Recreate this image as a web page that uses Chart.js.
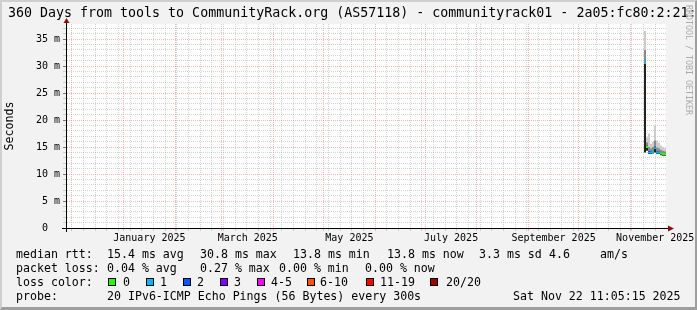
<!DOCTYPE html>
<html>
<head>
<meta charset="utf-8">
<script src="https://cdn.jsdelivr.net/npm/chart.js@4.4.0/dist/chart.umd.min.js"></script>
<style>
html, body { margin: 0; padding: 0; background: #f2f2f2; }
#page { position: relative; width: 697px; height: 310px; overflow: hidden; background: #f2f2f2;
        font-family: 'DejaVu Sans Mono', monospace; color: #000; }
#bevel { position: absolute; left: 0; top: 0; width: 697px; height: 310px; box-sizing: border-box;
         border-top: 2px solid #cfcfcf; border-left: 2px solid #cfcfcf;
         border-right: 2px solid #9e9e9e; border-bottom: 3px solid #9e9e9e; }
#chart { position: absolute; left: 0; top: 0; }
.t { position: absolute; white-space: pre; font-size: 11.6px; line-height: 14px; }
#title { position: absolute; left: 8px; top: 5px; white-space: pre; font-size: 13.3px; line-height: 16px; }
#wm { position: absolute; left: 684px; top: 5px; font-size: 8.3px; line-height: 9px; color: #aaaaaa;
      writing-mode: vertical-rl; white-space: pre; }
.box { position: absolute; top: 278px; width: 8px; height: 8px; box-sizing: border-box; border: 1px solid #000; }
</style>
</head>
<body>
<div id="page">
  <div id="bevel"></div>
  <canvas id="chart" width="697" height="310"></canvas>
  <div id="title">360 Days from tools to CommunityRack.org (AS57118) - communityrack01 - 2a05:fc80:2:21::1</div>
  <div id="wm">RRDTOOL / TOBI OETIKER</div>
  <div id="legend"></div>
</div>
<script>
// time span of the graph
var startMs = Date.UTC(2024, 10, 27, 11, 5, 15);
var spanDays = 360;

// x grid / labels
var monthStarts = ['2024-12-01', '2025-01-01', '2025-02-01', '2025-03-01', '2025-04-01', '2025-05-01',
                   '2025-06-01', '2025-07-01', '2025-08-01', '2025-09-01', '2025-10-01', '2025-11-01'];
var firstSunday = '2024-12-01';
var monthLabels = ['January 2025', 'March 2025', 'May 2025', 'July 2025', 'September 2025', 'November 2025'];
var labelAt = ['2025-01-16T12:00', '2025-03-16T12:00', '2025-05-16T12:00', '2025-07-16T12:00',
               '2025-09-16T00:00', '2025-11-16T00:00'];

// measured columns (days since start of graph)
var colDays  = [347.4, 348.6, 349.8, 351.0, 352.2, 353.4, 354.6, 355.8, 357.0, 358.2, 359.4];
// median rtt in ms and lost pings (index into loss colours)
var medianMs = [30.8, 15.0, 14.0, 14.0, 14.1, 14.8, 14.0, 14.0, 13.8, 13.7, 13.7];
var lossIdx  = [1, 0, 1, 1, 1, 1, 1, 1, 0, 0, 0];
// smoke: spread of the single pings in ms
var smokeMin = [14.0, 14.3, 13.7, 13.7, 13.8, 14.0, 13.7, 13.7, 13.5, 13.4, 13.4];
var smokeQ1  = [30.4, 15.3, 14.3, 14.2, 14.3, 15.1, 14.2, 14.2, 14.0, 13.9, 13.9];
var smokeQ3  = [33.0, 15.9, 15.0, 14.8, 15.0, 16.2, 14.9, 14.8, 14.5, 14.3, 14.2];
var smokeMax = [36.5, 16.8, 17.5, 15.6, 16.0, 19.0, 16.2, 15.8, 15.3, 15.0, 14.8];

var lossLabels = ['0', '1', '2', '3', '4-5', '6-10', '11-19', '20/20'];
var lossColors = ['#26ff00', '#00b8ff', '#0059ff', '#7e00ff', '#ff00ff', '#ff5500', '#ff0000', '#a10000'];

var yMax = 37.8;

function dayOf(s) {
    if (s.length == 10) s += 'T00:00';
    return (Date.parse(s + ':00Z') - startMs) / 86400000;
}

// legend text (rrdtool style)
var legend = document.getElementById('legend');
function put(x, y, txt) {
    var d = document.createElement('div');
    d.className = 't';
    d.style.left = x + 'px';
    d.style.top = y + 'px';
    d.textContent = txt;
    legend.appendChild(d);
}
put(16, 247, 'median rtt:');
put(107, 247, '15.4 ms avg');
put(200, 247, '30.8 ms max');
put(293, 247, '13.8 ms min');
put(387, 247, '13.8 ms now');
put(479, 247, '3.3 ms sd');
put(549, 247, '4.6');
put(600, 247, 'am/s');
put(16, 261, 'packet loss:');
put(107, 261, '0.04 % avg');
put(200, 261, '0.27 % max');
put(279, 261, '0.00 % min');
put(365, 261, '0.00 % now');
put(16, 275, 'loss color:');
var boxX = [108, 145.5, 182.5, 219.5, 257, 307, 366, 430];
var boxTxtX = [123, 160, 197, 234, 271, 320, 380, 446];
for (var i = 0; i < lossLabels.length; i++) {
    var b = document.createElement('div');
    b.className = 'box';
    b.style.left = boxX[i] + 'px';
    b.style.background = lossColors[i];
    legend.appendChild(b);
    put(boxTxtX[i], 275, lossLabels[i]);
}
put(16, 289, 'probe:');
put(107, 289, '20 IPv6-ICMP Echo Pings (56 Bytes) every 300s');
put(513, 289, 'Sat Nov 22 11:05:15 2025');

// chart
Chart.defaults.font.family = "'DejaVu Sans Mono', monospace";
Chart.defaults.color = '#000';

var minorGrid = 'rgba(175,175,175,0.55)';
var majorGrid = 'rgba(235,100,100,0.45)';

function band(lo, hi) {
    return colDays.map(function (d, i) { return { x: d, y: [lo[i], hi[i]] }; });
}

var plotBg = {
    id: 'plotBg',
    beforeDraw: function (chart) {
        var a = chart.chartArea, c = chart.ctx;
        c.save();
        c.fillStyle = '#ffffff';
        c.fillRect(a.left, a.top, a.right - a.left, a.bottom - a.top);
        c.restore();
    }
};

var arrows = {
    id: 'arrows',
    afterDraw: function (chart) {
        var a = chart.chartArea, c = chart.ctx;
        c.save();
        c.strokeStyle = '#000';
        c.lineWidth = 1;
        c.beginPath();
        c.moveTo(a.left - 4, a.bottom + 0.5);
        c.lineTo(a.right + 3, a.bottom + 0.5);
        c.moveTo(a.left + 0.5, a.bottom + 4);
        c.lineTo(a.left + 0.5, a.top - 1);
        c.stroke();
        c.fillStyle = '#8a1010';
        c.beginPath();
        c.moveTo(a.right + 2, a.bottom - 2.5);
        c.lineTo(a.right + 8, a.bottom + 0.5);
        c.lineTo(a.right + 2, a.bottom + 3.5);
        c.fill();
        c.beginPath();
        c.moveTo(a.left - 2.5, a.top - 1);
        c.lineTo(a.left + 0.5, a.top - 6);
        c.lineTo(a.left + 3.5, a.top - 1);
        c.fill();
        c.restore();
    }
};

var barCommon = { grouped: false, barThickness: 2, inflateAmount: 0, borderWidth: 0 };

new Chart(document.getElementById('chart'), {
    type: 'bar',
    data: {
        datasets: [
            Object.assign({ label: 'median', data: band(medianMs.map(function (m) { return m - 0.18; }),
                                                     medianMs.map(function (m) { return m + 0.18; })),
                backgroundColor: lossIdx.map(function (l) { return lossColors[l]; }), order: 0 }, barCommon),
            Object.assign({ label: 'smoke low', data: band(smokeMin, smokeQ1), backgroundColor: '#222222', order: 1 }, barCommon),
            Object.assign({ label: 'smoke mid', data: band(smokeQ1, smokeQ3), backgroundColor: '#8a8a8a', order: 2 }, barCommon),
            Object.assign({ label: 'smoke high', data: band(smokeQ3, smokeMax), backgroundColor: '#cccccc', order: 3 }, barCommon)
        ]
    },
    options: {
        responsive: false,
        animation: false,
        layout: { padding: { top: 24, right: 31, left: 0, bottom: 0 } },
        plugins: { legend: { display: false }, tooltip: { enabled: false } },
        scales: {
            x: {
                type: 'linear', min: 0, max: spanDays, offset: false,
                afterFit: function (s) { s.height = 82; },
                afterBuildTicks: function (s) {
                    var t = [{ value: 0, kind: 'edge' }];
                    var majors = monthStarts.map(dayOf);
                    for (var d = dayOf(firstSunday); d < spanDays; d += 7) {
                        var clash = majors.some(function (m) { return Math.abs(m - d) < 0.01; });
                        if (!clash) t.push({ value: d, kind: 'minor' });
                    }
                    majors.forEach(function (m) { t.push({ value: m, kind: 'major' }); });
                    labelAt.forEach(function (l, i) { t.push({ value: dayOf(l), kind: 'label', name: monthLabels[i] }); });
                    t.push({ value: spanDays, kind: 'edge' });
                    s.ticks = t;
                },
                grid: {
                    offset: false,
                    color: function (c) {
                        var k = c.tick && c.tick.kind;
                        return k == 'major' ? majorGrid : (k == 'minor' ? minorGrid : 'rgba(0,0,0,0)');
                    },
                    tickColor: function (c) {
                        var k = c.tick && c.tick.kind;
                        return k == 'major' ? majorGrid : (k == 'minor' ? minorGrid : 'rgba(0,0,0,0)');
                    },
                    tickLength: 3
                },
                border: { color: '#000', width: 1, dash: [1, 1] },
                ticks: {
                    autoSkip: false, maxRotation: 0, minRotation: 0, padding: 1,
                    font: { size: 10 },
                    callback: function (v, i, ticks) { return ticks[i].name || ''; }
                }
            },
            y: {
                type: 'linear', min: 0, max: yMax,
                afterFit: function (s) { s.width = 66; },
                afterBuildTicks: function (s) {
                    var t = [];
                    for (var v = 0; v <= Math.floor(yMax); v++) t.push({ value: v, kind: v % 5 == 0 ? 'major' : 'minor' });
                    s.ticks = t;
                },
                grid: {
                    color: function (c) { return c.tick && c.tick.kind == 'major' ? majorGrid : minorGrid; },
                    tickColor: function (c) { return c.tick && c.tick.kind == 'major' ? '#777' : minorGrid; },
                    tickLength: 3
                },
                border: { color: '#000', width: 1, dash: [1, 1] },
                ticks: {
                    autoSkip: false, padding: 3, font: { size: 10 },
                    callback: function (v) {
                        if (v % 5 != 0) return '';
                        return v == 0 ? '0  ' : v + ' m';
                    }
                },
                title: { display: true, text: 'Seconds', font: { size: 11.6 }, padding: { top: 3, bottom: 0 } }
            }
        }
    },
    plugins: [plotBg, arrows]
});
</script>
</body>
</html>
